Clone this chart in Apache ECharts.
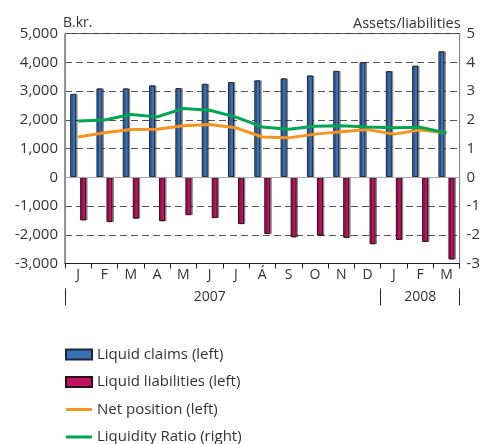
<!DOCTYPE html>
<html>
<head>
<meta charset="utf-8">
<script src="https://cdn.jsdelivr.net/npm/echarts@6/dist/echarts.min.js"></script>
<style>
  html, body { margin: 0; padding: 0; background: #fff; }
  #chart { width: 483px; height: 444px; }
</style>
</head>
<body>
<div id="chart"></div>
<script>
// Monthly categories, Jan 2007 – Mar 2008
var months = ['J', 'F', 'M', 'A', 'M', 'J', 'J', 'Á', 'S', 'O', 'N', 'D', 'J', 'F', 'M'];
var yearLabels = ['', '', '', '', '', '2007', '', '', '', '', '', '', '', '2008', ''];
// Year separators: start of 2007, start of 2008 (12 months in), end of range
var yearSpan = 12;

// Left axis, B.kr.
var liquidClaims = [2900, 3090, 3090, 3195, 3100, 3250, 3310, 3370, 3440, 3540, 3700, 4000, 3690, 3880, 4380];
var liquidLiabilities = [-1500, -1560, -1440, -1530, -1320, -1420, -1630, -1975, -2090, -2030, -2110, -2330, -2180, -2250, -2860];
var netPosition = [1400, 1545, 1660, 1670, 1790, 1835, 1720, 1400, 1370, 1500, 1580, 1660, 1500, 1640, 1545];

// Right axis, assets/liabilities
var liquidityRatio = [1.96, 1.99, 2.18, 2.10, 2.39, 2.33, 2.09, 1.75, 1.67, 1.77, 1.79, 1.75, 1.72, 1.74, 1.54];

var FONT = 'Open Sans';
var TEXT = '#333';
var LINE_ICON = 'path://M0,0 H26 V3 H0 Z';

var chart = echarts.init(document.getElementById('chart'), null, { renderer: 'canvas' });

chart.setOption({
  animation: false,
  backgroundColor: '#fff',
  textStyle: { fontFamily: FONT, color: TEXT },
  grid: {
    left: 65, right: 22, top: 33.5, bottom: 180.5,
    show: true, borderColor: '#333', borderWidth: 1, backgroundColor: 'transparent'
  },
  legend: {
    orient: 'vertical',
    left: 60, top: 347,
    height: 140,
    padding: [0, 5],
    itemWidth: 26, itemHeight: 10, itemGap: 12.5,
    textStyle: { fontFamily: FONT, fontSize: 15, color: TEXT },
    data: [
      { name: 'Liquid claims (left)', icon: 'rect', itemStyle: { shadowColor: 'transparent' } },
      { name: 'Liquid liabilities (left)', icon: 'rect', itemStyle: { shadowColor: 'transparent' } },
      { name: 'Net position (left)', icon: LINE_ICON },
      { name: 'Liquidity Ratio (right)', icon: LINE_ICON }
    ]
  },
  xAxis: [
    {
      type: 'category',
      data: months,
      boundaryGap: true,
      axisLine: { onZero: false, lineStyle: { color: '#222', width: 1 } },
      axisTick: { show: true, inside: false, length: 5, lineStyle: { color: '#222' } },
      axisLabel: { fontFamily: FONT, fontSize: 14, color: TEXT, margin: 5, interval: 0 },
      splitLine: { show: false }
    },
    {
      // year labels
      type: 'category',
      data: yearLabels,
      position: 'bottom',
      offset: 25,
      boundaryGap: true,
      axisLine: { show: false, onZero: false },
      axisTick: { show: false },
      axisLabel: { fontFamily: FONT, fontSize: 14, color: TEXT, margin: 2, interval: 0 },
      splitLine: { show: false }
    },
    {
      // year separators
      type: 'value',
      min: 0, max: months.length, interval: yearSpan,
      position: 'bottom',
      offset: 25,
      axisLine: { show: false, onZero: false },
      axisTick: { show: true, inside: false, length: 17, lineStyle: { color: '#222' } },
      axisLabel: { show: false },
      splitLine: { show: false }
    }
  ],
  yAxis: [
    {
      type: 'value',
      min: -3000, max: 5000, interval: 1000,
      name: 'B.kr.',
      nameLocation: 'end',
      nameGap: 10,
      nameMoveOverlap: false,
      nameTextStyle: { fontFamily: FONT, fontSize: 14, color: TEXT, align: 'left', verticalAlign: 'middle', padding: [0, 0, 0, -2] },
      axisLine: { show: true, lineStyle: { color: '#888' } },
      axisTick: { show: false },
      axisLabel: {
        fontFamily: FONT, fontSize: 15, color: TEXT, margin: 7,
        formatter: function (v) { return v.toLocaleString('en-US'); }
      },
      splitLine: { show: true, lineStyle: { color: '#555', type: [7, 4], width: 1 } }
    },
    {
      type: 'value',
      min: -3, max: 5, interval: 1,
      name: 'Assets/liabilities',
      nameLocation: 'end',
      nameGap: 10,
      nameMoveOverlap: false,
      nameTextStyle: { fontFamily: FONT, fontSize: 14.5, color: TEXT, align: 'right', verticalAlign: 'middle', padding: [0, -1, 0, 0] },
      axisLine: { show: true, lineStyle: { color: '#888' } },
      axisTick: { show: false },
      axisLabel: { fontFamily: FONT, fontSize: 15, color: TEXT, margin: 7 },
      splitLine: { show: false }
    }
  ],
  series: [
    {
      name: 'Liquid claims (left)',
      type: 'bar',
      data: liquidClaims,
      barWidth: 6,
      barGap: '67%',
      itemStyle: {
        color: '#3a71b6', borderColor: '#1c2838', borderWidth: 1,
        shadowColor: 'rgba(0,0,0,0.35)', shadowOffsetX: 1.5, shadowBlur: 0
      },
      markLine: {
        silent: true, symbol: 'none', label: { show: false },
        lineStyle: { color: '#aaa', type: 'solid', width: 1 },
        data: [{ yAxis: 0 }]
      },
      z: 3
    },
    {
      name: 'Liquid liabilities (left)',
      type: 'bar',
      data: liquidLiabilities,
      barWidth: 6,
      itemStyle: {
        color: '#c0135f', borderColor: '#2a0d1a', borderWidth: 1,
        shadowColor: 'rgba(0,0,0,0.35)', shadowOffsetX: 1.5, shadowBlur: 0
      },
      z: 3
    },
    {
      name: 'Net position (left)',
      type: 'line',
      data: netPosition,
      yAxisIndex: 0,
      symbol: 'none',
      lineStyle: { color: '#f7931e', width: 3 },
      itemStyle: { color: '#f7931e' },
      z: 4
    },
    {
      name: 'Liquidity Ratio (right)',
      type: 'line',
      data: liquidityRatio,
      yAxisIndex: 1,
      symbol: 'none',
      lineStyle: { color: '#00a651', width: 3 },
      itemStyle: { color: '#00a651' },
      z: 5
    }
  ]
});
</script>
</body>
</html>
